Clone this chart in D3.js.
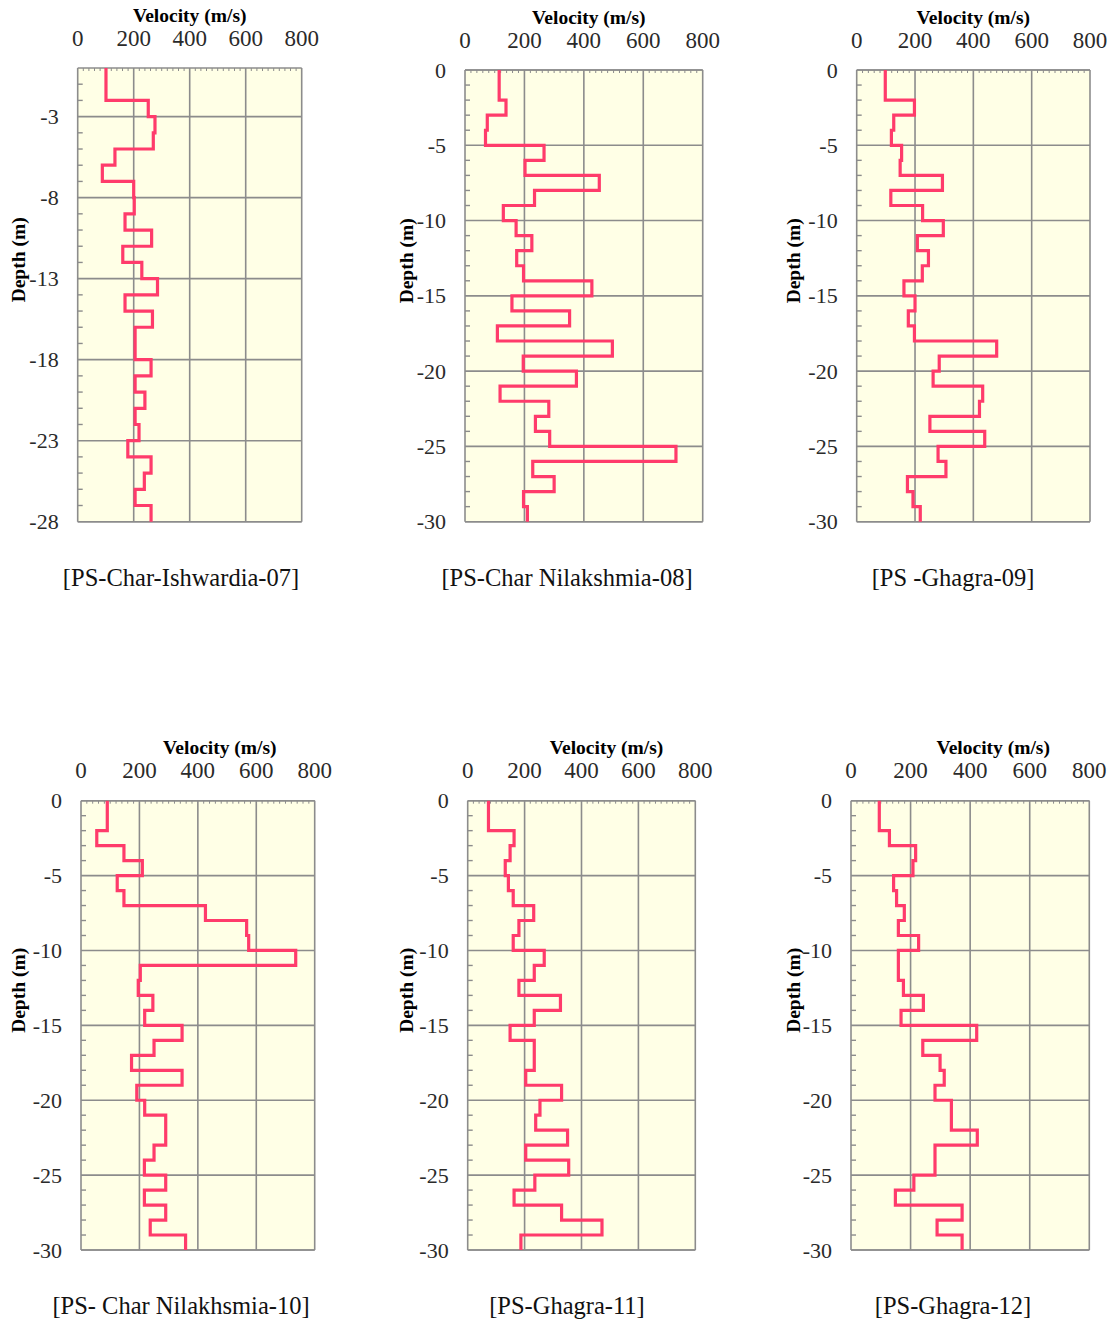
<!DOCTYPE html>
<html>
<head>
<meta charset="utf-8">
<script src="https://cdn.jsdelivr.net/npm/d3@7"></script>
<style>
  body { margin: 0; background: #fff; }
  svg text { font-family: 'Liberation Serif', 'Times New Roman', serif; }
</style>
</head>
<body>
<svg id="chart" width="1116" height="1322"></svg>
<script>
// shear wave velocity (m/s), one value per 1 m layer from the surface down
var vel07 = [101, 101, 252, 276, 270, 133, 88, 200, 202, 169, 264, 161, 229, 285,
  169, 267, 205, 205, 262, 205, 240, 205, 219, 179, 262, 238, 205, 262]
var vel08 = [115, 115, 138, 75, 69, 266, 202, 452, 234, 129, 172, 225, 174, 197, 427,
  158, 352, 109, 496, 196, 375, 118, 282, 237, 285, 710, 228, 300, 197, 210]
var vel09 = [98, 98, 198, 127, 119, 154, 149, 294, 117, 226, 297, 208, 246, 225, 162,
  200, 177, 198, 480, 283, 262, 432, 421, 251, 439, 279, 306, 174, 193, 218]
var vel10 = [90, 90, 54, 147, 210, 124, 147, 426, 567, 574, 735, 203, 196, 246, 218,
  346, 250, 173, 346, 191, 218, 290, 290, 250, 217, 290, 217, 290, 237, 358]
var vel11 = [73, 73, 163, 149, 132, 143, 160, 232, 180, 160, 269, 234, 180, 326, 234,
  149, 234, 234, 204, 330, 254, 239, 351, 204, 355, 236, 163, 330, 472, 187]
var vel12 = [95, 95, 129, 217, 208, 143, 153, 179, 159, 227, 159, 159, 176, 243, 168,
  422, 241, 299, 313, 282, 337, 337, 424, 282, 282, 211, 149, 373, 289, 373]

var velocityTicks = [0, 200, 400, 600, 800]
var depthTicks07 = [-3, -8, -13, -18, -23, -28]
var depthTicks = [0, -5, -10, -15, -20, -25, -30]
var depthRange07 = [-28, 0]
var depthRange = [-30, 0]

var names = ['[PS-Char-Ishwardia-07]', '[PS-Char Nilakshmia-08]', '[PS -Ghagra-09]',
  '[PS- Char Nilakhsmia-10]', '[PS-Ghagra-11]', '[PS-Ghagra-12]']

var panels = [
  { vel: vel07, ticks: depthTicks07, range: depthRange07, box: [77.7, 68, 301.7, 521.7], titleDx: 0, ylabX: 18, capY: 577 },
  { vel: vel08, ticks: depthTicks, range: depthRange, box: [465, 70, 702.7, 521.7], titleDx: 5, ylabX: 406, capY: 577 },
  { vel: vel09, ticks: depthTicks, range: depthRange, box: [856.7, 70, 1090, 521.7], titleDx: 0, ylabX: 793, capY: 577 },
  { vel: vel10, ticks: depthTicks, range: depthRange, box: [81, 800.7, 314.7, 1250], titleDx: 22, ylabX: 18, capY: 1305 },
  { vel: vel11, ticks: depthTicks, range: depthRange, box: [467.7, 800.7, 695.3, 1250], titleDx: 25, ylabX: 406, capY: 1305 },
  { vel: vel12, ticks: depthTicks, range: depthRange, box: [851, 800.7, 1089.3, 1250], titleDx: 23, ylabX: 793, capY: 1305 }
]
var capX = [181, 567, 953, 181, 567, 953]

var svg = d3.select('#chart')
var gridColor = '#8c8c8c'

function drawPanel(p, i) {
  var [x0, y0, x1, y1] = p.box
  var x = d3.scaleLinear().domain([0, 800]).range([x0, x1])
  var y = d3.scaleLinear().domain(p.range).range([y1, y0])
  var g = svg.append('g')

  g.append('rect')
    .attr('x', x0).attr('y', y0)
    .attr('width', x1 - x0).attr('height', y1 - y0)
    .attr('fill', '#ffffe6')

  // grid
  g.selectAll('line.vgrid')
    .data(velocityTicks)
    .enter().append('line')
    .attr('class', 'vgrid')
    .attr('x1', (d) => x(d)).attr('x2', (d) => x(d))
    .attr('y1', y0).attr('y2', y1)
    .attr('stroke', gridColor).attr('stroke-width', 1.6)

  g.selectAll('line.hgrid')
    .data(p.ticks.concat(p.range))
    .enter().append('line')
    .attr('class', 'hgrid')
    .attr('x1', x0).attr('x2', x1)
    .attr('y1', (d) => y(d)).attr('y2', (d) => y(d))
    .attr('stroke', gridColor).attr('stroke-width', 1.6)

  // minor ticks, inward
  g.selectAll('line.xminor')
    .data(d3.range(20, 800, 20).filter((d) => d % 200 !== 0))
    .enter().append('line')
    .attr('class', 'xminor')
    .attr('x1', (d) => x(d)).attr('x2', (d) => x(d))
    .attr('y1', y0).attr('y2', y0 + 3)
    .attr('stroke', gridColor).attr('stroke-width', 1)

  g.selectAll('line.yminor')
    .data(d3.range(p.range[0] + 1, p.range[1]).filter((d) => p.ticks.indexOf(d) < 0))
    .enter().append('line')
    .attr('class', 'yminor')
    .attr('x1', x0).attr('x2', x0 + 5)
    .attr('y1', (d) => y(d)).attr('y2', (d) => y(d))
    .attr('stroke', gridColor).attr('stroke-width', 1.4)

  // step profile
  var pts = []
  p.vel.forEach((v, k) => {
    pts.push([v, -k])
    pts.push([v, -(k + 1)])
  })
  var line = d3.line().x((d) => x(d[0])).y((d) => y(d[1]))
  g.append('path')
    .datum(pts)
    .attr('d', line)
    .attr('fill', 'none')
    .attr('stroke', '#ff3b6b')
    .attr('stroke-width', 3.2)
    .attr('stroke-linejoin', 'miter')

  // tick labels
  g.selectAll('text.xt')
    .data(velocityTicks)
    .enter().append('text')
    .attr('x', (d) => x(d)).attr('y', y0 - 30)
    .attr('text-anchor', 'middle').attr('dominant-baseline', 'central')
    .attr('font-size', 23).attr('fill', '#2a2a2a')
    .text((d) => d)

  g.selectAll('text.yt')
    .data(p.ticks)
    .enter().append('text')
    .attr('x', x0 - 19).attr('y', (d) => y(d))
    .attr('text-anchor', 'end').attr('dominant-baseline', 'central')
    .attr('font-size', 22).attr('fill', '#2a2a2a')
    .text((d) => d)

  g.append('text')
    .attr('x', (x0 + x1) / 2 + p.titleDx).attr('y', y0 - 53)
    .attr('text-anchor', 'middle').attr('dominant-baseline', 'central')
    .attr('font-size', 19.5).attr('font-weight', 'bold')
    .text('Velocity (m/s)')

  var ly = (y0 + y1) / 2 - 35
  g.append('text')
    .attr('transform', `translate(${p.ylabX},${ly}) rotate(-90)`)
    .attr('text-anchor', 'middle').attr('dominant-baseline', 'central')
    .attr('font-size', 19.5).attr('font-weight', 'bold')
    .text('Depth (m)')

  g.append('text')
    .attr('x', capX[i]).attr('y', p.capY)
    .attr('text-anchor', 'middle').attr('dominant-baseline', 'central')
    .attr('font-size', 24.5).attr('fill', '#111')
    .text(names[i])
}

panels.forEach(drawPanel)
</script>
</body>
</html>
